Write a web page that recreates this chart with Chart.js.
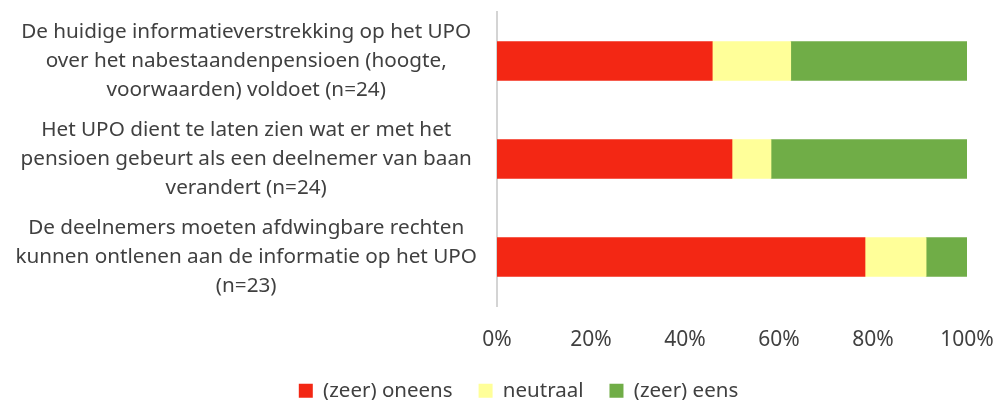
<!DOCTYPE html>
<html><head><meta charset="utf-8">
<script src="https://cdn.jsdelivr.net/npm/chart.js@4/dist/chart.umd.min.js"></script>
<style>html,body{margin:0;padding:0;background:#fff}#wrap{width:997px;height:400px}</style>
</head><body><div id="wrap"><canvas id="c" width="997" height="400"></canvas></div>
<script>
const categories = [
  ["De huidige informatieverstrekking op het UPO","over het nabestaandenpensioen (hoogte,","voorwaarden) voldoet (n=24)"],
  ["Het UPO dient te laten zien wat er met het","pensioen gebeurt als een deelnemer van baan","verandert (n=24)"],
  ["De deelnemers moeten afdwingbare rechten","kunnen ontlenen aan de informatie op het UPO","(n=23)"]
];
const seriesNames = ["(zeer) oneens","neutraal","(zeer) eens"];
const oneens = [45.8, 50.0, 78.3];
const neutraal = [16.7, 8.3, 13.0];
const eens = [37.5, 41.7, 8.7];
const xTicks = [0,20,40,60,80,100];

const FONT = "'Noto Sans', sans-serif";
Chart.defaults.font.family = FONT;
Chart.defaults.color = '#404040';

const legendShift = {
  id: 'legendShift',
  afterLayout(chart) {
    const lg = chart.legend;
    if (lg) { lg.left += 35; lg.right += 35; }
  }
};

new Chart(document.getElementById('c'), {
  type: 'bar',
  data: {
    labels: categories,
    datasets: [
      {label: seriesNames[0], data: oneens, backgroundColor: '#F32714'},
      {label: seriesNames[1], data: neutraal, backgroundColor: '#FFFF99'},
      {label: seriesNames[2], data: eens, backgroundColor: '#70AD47'}
    ]
  },
  plugins: [legendShift],
  options: {
    indexAxis: 'y',
    responsive: false,
    animation: false,
    datasets: {bar: {barThickness: 39}},
    layout: {padding: {top: 12, right: 30, bottom: -11, left: 0}},
    plugins: {
      legend: {
        position: 'bottom',
        labels: {boxWidth: 14, boxHeight: 14, padding: 26, font: {size: 20.5}, color: '#404040'}
      },
      tooltip: {enabled: false}
    },
    scales: {
      x: {
        stacked: true, min: 0, max: 100,
        afterBuildTicks: s => { s.ticks = xTicks.map(v => ({value: v})); },
        grid: {display: false, drawTicks: false},
        border: {display: false},
        ticks: {callback: v => v + '%', font: {size: 21}, color: '#404040', padding: 21, maxRotation: 0},
        afterFit: s => { s.height = 48.5; s.paddingLeft = 0; s.paddingRight = 0; }
      },
      y: {
        stacked: true,
        grid: {display: false, drawTicks: false},
        border: {display: true, color: '#D4D4D4', width: 2},
        ticks: {font: {size: 20.7, lineHeight: 1.42}, color: '#404040', crossAlign: 'center', padding: 20, autoSkip: false},
        afterFit: s => { s.width = 497; s.paddingTop = 0; s.paddingBottom = 0; }
      }
    }
  }
});
</script></body></html>
